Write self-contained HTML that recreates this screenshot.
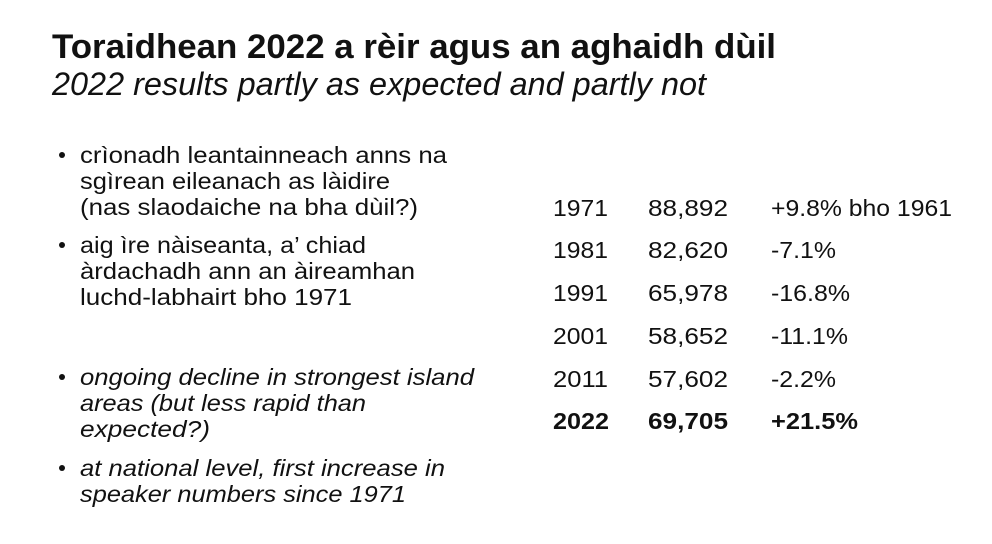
<!DOCTYPE html>
<html><head><meta charset="utf-8"><style>
body{margin:0;background:#fff}
svg{display:block}
text{font-family:"Liberation Sans",sans-serif;fill:#111}
.t{font-weight:bold;font-size:34px}
.s{font-style:italic;font-size:32px}
.b{font-size:23px}
.i{font-size:23px;font-style:italic}
.n{font-size:23px}
.nb{font-size:23px;font-weight:bold}
</style></head><body>
<svg width="992" height="544" viewBox="0 0 992 544">
<text class="t" x="52" y="58" textLength="724" lengthAdjust="spacingAndGlyphs">Toraidhean 2022 a rèir agus an aghaidh dùil</text>
<text class="s" x="52" y="95" textLength="654" lengthAdjust="spacingAndGlyphs">2022 results partly as expected and partly not</text>
<g fill="#111"><circle cx="62" cy="155" r="3"/><circle cx="62" cy="245" r="3"/><circle cx="62" cy="377" r="3"/><circle cx="62" cy="468" r="3"/></g>
<text class="b" x="80" y="163" textLength="367" lengthAdjust="spacingAndGlyphs">crìonadh leantainneach anns na</text>
<text class="b" x="80" y="189" textLength="310" lengthAdjust="spacingAndGlyphs">sgìrean eileanach as làidire</text>
<text class="b" x="80" y="215" textLength="338" lengthAdjust="spacingAndGlyphs">(nas slaodaiche na bha dùil?)</text>
<text class="b" x="80" y="253" textLength="286" lengthAdjust="spacingAndGlyphs">aig ìre nàiseanta, a’ chiad</text>
<text class="b" x="80" y="279" textLength="335" lengthAdjust="spacingAndGlyphs">àrdachadh ann an àireamhan</text>
<text class="b" x="80" y="305" textLength="272" lengthAdjust="spacingAndGlyphs">luchd-labhairt bho 1971</text>
<text class="i" x="80" y="385" textLength="394" lengthAdjust="spacingAndGlyphs">ongoing decline in strongest island</text>
<text class="i" x="80" y="411" textLength="286" lengthAdjust="spacingAndGlyphs">areas (but less rapid than</text>
<text class="i" x="80" y="437" textLength="130" lengthAdjust="spacingAndGlyphs">expected?)</text>
<text class="i" x="80" y="476" textLength="365" lengthAdjust="spacingAndGlyphs">at national level, first increase in</text>
<text class="i" x="80" y="502" textLength="326" lengthAdjust="spacingAndGlyphs">speaker numbers since 1971</text>
<g>
<text class="n" x="553" y="216" textLength="55" lengthAdjust="spacingAndGlyphs">1971</text><text class="n" x="648" y="216" textLength="80" lengthAdjust="spacingAndGlyphs">88,892</text><text class="n" x="771" y="216" textLength="181" lengthAdjust="spacingAndGlyphs">+9.8% bho 1961</text>
<text class="n" x="553" y="258" textLength="55" lengthAdjust="spacingAndGlyphs">1981</text><text class="n" x="648" y="258" textLength="80" lengthAdjust="spacingAndGlyphs">82,620</text><text class="n" x="771" y="258" textLength="65" lengthAdjust="spacingAndGlyphs">-7.1%</text>
<text class="n" x="553" y="301" textLength="55" lengthAdjust="spacingAndGlyphs">1991</text><text class="n" x="648" y="301" textLength="80" lengthAdjust="spacingAndGlyphs">65,978</text><text class="n" x="771" y="301" textLength="79" lengthAdjust="spacingAndGlyphs">-16.8%</text>
<text class="n" x="553" y="344" textLength="55" lengthAdjust="spacingAndGlyphs">2001</text><text class="n" x="648" y="344" textLength="80" lengthAdjust="spacingAndGlyphs">58,652</text><text class="n" x="771" y="344" textLength="77" lengthAdjust="spacingAndGlyphs">-11.1%</text>
<text class="n" x="553" y="387" textLength="55" lengthAdjust="spacingAndGlyphs">2011</text><text class="n" x="648" y="387" textLength="80" lengthAdjust="spacingAndGlyphs">57,602</text><text class="n" x="771" y="387" textLength="65" lengthAdjust="spacingAndGlyphs">-2.2%</text>
<text class="nb" x="553" y="429" textLength="56" lengthAdjust="spacingAndGlyphs">2022</text><text class="nb" x="648" y="429" textLength="80" lengthAdjust="spacingAndGlyphs">69,705</text><text class="nb" x="771" y="429" textLength="87" lengthAdjust="spacingAndGlyphs">+21.5%</text>
</g>
</svg>
</body></html>
